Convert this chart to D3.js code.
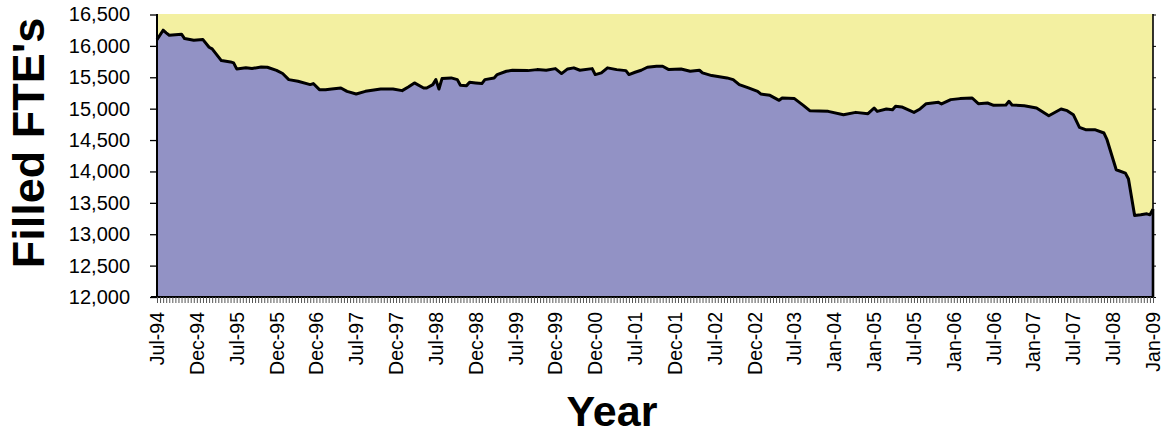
<!DOCTYPE html>
<html>
<head>
<meta charset="utf-8">
<script src="https://cdn.jsdelivr.net/npm/d3@7"></script>
<style>
html,body{margin:0;padding:0;background:#fff;}
svg{display:block;}
text{font-family:"Liberation Sans",Arial,sans-serif;fill:#000;}
</style>
</head>
<body>
<script>
// ---- data (pay-period index, filled FTEs) ----
const periodIndex = [0,2,3,4,8,9,12,15,17,18,21,24,25,26,29,31,34,36,39,41,43,46,50,51,53,55,57,60,62,65,68,73,77,80,82,84,87,88,90,91,92,93,96,98,99,101,102,104,106,107,110,111,114,116,121,124,127,130,132,134,136,138,142,143,145,147,150,153,154,156,158,160,163,165,167,171,174,177,178,181,186,188,190,193,196,197,200,203,204,208,211,213,219,224,228,232,234,235,238,240,241,243,247,249,251,255,256,259,262,266,268,271,273,277,278,279,283,287,291,295,297,299,301,303,306,309,310,312,313,316,317,319,321,323,324,325];
const fte = [16100,16250,16208,16170,16186,16117,16090,16100,15978,15952,15766,15745,15730,15633,15650,15640,15665,15660,15610,15560,15463,15436,15383,15400,15303,15303,15314,15330,15276,15234,15276,15314,15314,15287,15346,15410,15330,15330,15383,15463,15314,15479,15490,15463,15372,15367,15420,15410,15400,15463,15490,15543,15596,15612,15606,15622,15612,15638,15559,15633,15650,15612,15638,15543,15570,15650,15622,15606,15543,15580,15612,15660,15675,15675,15622,15633,15596,15612,15570,15527,15490,15463,15383,15330,15276,15234,15212,15133,15170,15160,15048,14968,14957,14904,14941,14920,15011,14957,14995,14984,15040,15027,14941,14995,15080,15101,15075,15144,15160,15170,15080,15090,15053,15059,15117,15059,15048,15011,14888,14995,14968,14904,14702,14665,14665,14612,14505,14186,14027,13973,13880,13300,13309,13325,13309,13400];
const tickLabels = ["Jul-94","Dec-94","Jul-95","Dec-95","Dec-96","Jul-97","Dec-97","Jul-98","Dec-98","Jul-99","Dec-99","Dec-00","Jul-01","Dec-01","Jul-02","Dec-02","Jul-03","Jan-04","Jan-05","Jul-05","Jan-06","Jul-06","Jan-07","Jul-07","Jul-08","Jan-09"];
const periodsPerLabel = 13;
const yTicks = [12000,12500,13000,13500,14000,14500,15000,15500,16000,16500];
const yMin = 12000, yMax = 16500;

// ---- layout ----
const W = 1165, H = 435;
const mLeft = 157, mRight = 1153, mTop = 14, mBottom = 297;
const nPeriods = (tickLabels.length - 1) * periodsPerLabel; // 325

const svg = d3.select("body").append("svg").attr("width", W).attr("height", H);

const x = d3.scaleLinear().domain([0, nPeriods]).range([mLeft, mRight]);
const y = d3.scaleLinear().domain([yMin, yMax]).range([mBottom, mTop + 0.5]);

// plot background (yellow)
svg.append("rect").attr("x", mLeft).attr("y", mTop).attr("width", mRight - mLeft).attr("height", mBottom - mTop)
  .attr("fill", "#F3F0A1");

const data = periodIndex.map((p, i) => ({p, v: fte[i]}));

// area
svg.append("path").datum(data)
  .attr("d", d3.area().x(d => x(d.p)).y0(y(yMin)).y1(d => y(d.v)))
  .attr("fill", "#9292C5");

// outline
svg.append("path").datum(data)
  .attr("d", d3.line().x(d => x(d.p)).y(d => y(d.v)))
  .attr("fill", "none").attr("stroke", "#000").attr("stroke-width", 3).attr("stroke-linejoin", "round");

// right edge of the area down to the base
svg.append("line").attr("x1", x(nPeriods)).attr("x2", x(nPeriods))
  .attr("y1", y(fte[fte.length - 1])).attr("y2", mBottom).attr("stroke", "#000").attr("stroke-width", 2.6);

// right secondary axis line with small ticks
const rAxis = svg.append("g").attr("transform", `translate(${mRight},0)`)
  .call(d3.axisRight(y).tickValues(yTicks).tickSize(3).tickFormat(""));
rAxis.select(".domain").attr("stroke", "#000").attr("stroke-width", 1.6).attr("d", `M0,${mTop}V${mBottom}`);
rAxis.selectAll(".tick line").attr("stroke", "#000");

// x axis: a tick per pay period
const xAxis = svg.append("g").attr("transform", `translate(0,${mBottom})`)
  .call(d3.axisBottom(x).tickValues(d3.range(0, nPeriods + 1)).tickSize(6).tickFormat(""));
xAxis.select(".domain").attr("stroke", "#000").attr("stroke-width", 2).attr("d", `M${mLeft - 6},0H${mRight}`);
xAxis.selectAll(".tick line").attr("stroke", "#555").attr("stroke-width", 1);

// x tick labels
svg.append("g").selectAll("text").data(tickLabels).join("text")
  .attr("transform", (d, i) => `translate(${x(i * periodsPerLabel) + 7},312) rotate(-90)`)
  .attr("text-anchor", "end")
  .style("font-size", "19.5px")
  .text(d => d);

// y axis
const yAxis = svg.append("g").attr("transform", `translate(${mLeft},0)`)
  .call(d3.axisLeft(y).tickValues(yTicks).tickSize(7).tickPadding(20)
    .tickFormat(d3.format(",")));
yAxis.select(".domain").attr("stroke", "#000").attr("stroke-width", 2).attr("d", `M0,${mTop}V${mBottom}`);
yAxis.selectAll(".tick line").attr("stroke", "#000").attr("stroke-width", 1.3);
yAxis.selectAll(".tick text").style("font-size", "20px").style("font-family", '"Liberation Sans",Arial,sans-serif').attr("fill", "#000");

// axis titles
svg.append("text").attr("transform", "translate(44,143) rotate(-90)")
  .attr("text-anchor", "middle").style("font-size", "45px").style("font-weight", "bold")
  .text("Filled FTE's");
svg.append("text").attr("x", 612).attr("y", 426)
  .attr("text-anchor", "middle").style("font-size", "43px").style("font-weight", "bold")
  .text("Year");
</script>
</body>
</html>
